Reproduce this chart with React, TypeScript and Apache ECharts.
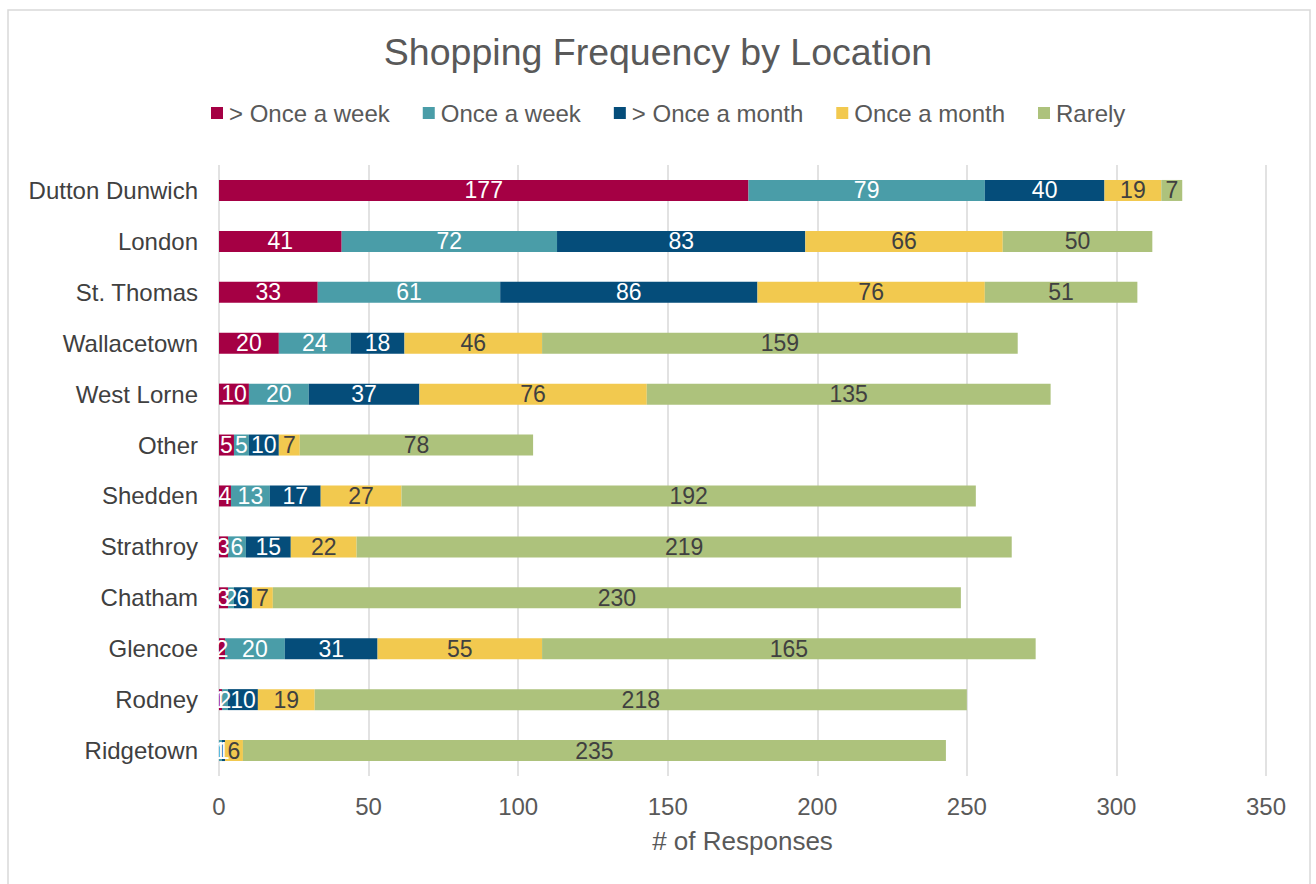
import React, { useEffect, useRef } from "react";
import * as echarts from "echarts";

const categories = [
  "Dutton Dunwich", "London", "St. Thomas", "Wallacetown", "West Lorne", "Other",
  "Shedden", "Strathroy", "Chatham", "Glencoe", "Rodney", "Ridgetown",
];
const seriesNames = ["> Once a week", "Once a week", "> Once a month", "Once a month", "Rarely"];
const moreThanWeekly = [177, 41, 33, 20, 10, 5, 4, 3, 3, 2, 1, 0];
const weekly = [79, 72, 61, 24, 20, 5, 13, 6, 2, 20, 2, 1];
const moreThanMonthly = [40, 83, 86, 18, 37, 10, 17, 15, 6, 31, 10, 1];
const monthly = [19, 66, 76, 46, 76, 7, 27, 22, 7, 55, 19, 6];
const rarely = [7, 50, 51, 159, 135, 78, 192, 219, 230, 165, 218, 235];
const xTicks = { min: 0, max: 350, interval: 50 };

const colors = ["#A50044", "#4A9DA8", "#054D7A", "#F2C94F", "#ADC27C"];
const labelColors = ["#FFFFFF", "#FFFFFF", "#FFFFFF", "#404040", "#404040"];
const FONT = "'Liberation Sans', Arial, sans-serif";

export default function App() {
  const ref = useRef<HTMLDivElement>(null);
  useEffect(() => {
    if (!ref.current) return;
    const chart = echarts.init(ref.current, undefined, { renderer: "svg" });
    const data = [moreThanWeekly, weekly, moreThanMonthly, monthly, rarely];
    chart.setOption({
      animation: false,
      textStyle: { fontFamily: FONT },
      title: {
        text: "Shopping Frequency by Location",
        left: "center",
        top: 28,
        textStyle: { fontSize: 37.5, fontWeight: "normal", color: "#595959", fontFamily: FONT },
      },
      legend: {
        top: 96,
        left: 206,
        itemWidth: 12,
        itemHeight: 12,
        itemGap: 33,
        icon: "rect",
        textStyle: { fontSize: 24, color: "#595959", fontFamily: FONT, padding: [0, 0, 0, 1] },
        data: seriesNames,
      },
      graphic: [
        {
          type: "rect",
          shape: { x: 8, y: 10, width: 1302, height: 890 },
          style: { fill: "none", stroke: "#D9D9D9", lineWidth: 1.5 },
          silent: true,
        },
      ],
      grid: { left: 219, right: 50, top: 165, bottom: 108 },
      xAxis: {
        type: "value",
        min: xTicks.min,
        max: xTicks.max,
        interval: xTicks.interval,
        name: "# of Responses",
        nameLocation: "middle",
        nameGap: 52,
        nameTextStyle: { fontSize: 26, color: "#595959", fontFamily: FONT },
        axisLine: { show: false },
        axisTick: { show: false },
        axisLabel: { fontSize: 24, color: "#595959", margin: 18, fontFamily: FONT },
        splitLine: { show: true, lineStyle: { color: "#D9D9D9", width: 1.5 } },
      },
      yAxis: {
        type: "category",
        inverse: true,
        data: categories,
        axisLine: { show: false },
        axisTick: { show: false },
        axisLabel: { fontSize: 24, color: "#404040", margin: 21, fontFamily: FONT },
      },
      series: seriesNames.map((name, i) => ({
        name,
        type: "bar",
        stack: "total",
        barWidth: 21,
        itemStyle: { color: colors[i] },
        label: {
          show: true,
          position: "inside",
          fontSize: 23,
          color: labelColors[i],
          fontFamily: FONT,
          formatter: (p: any) => (p.value > 0 ? String(p.value) : ""),
        },
        data: data[i],
      })),
    });
    return () => chart.dispose();
  }, []);
  return (
    <div
      ref={ref}
      style={{ position: "fixed", left: 0, top: 0, width: 1316, height: 884, background: "#fff" }}
    />
  );
}
